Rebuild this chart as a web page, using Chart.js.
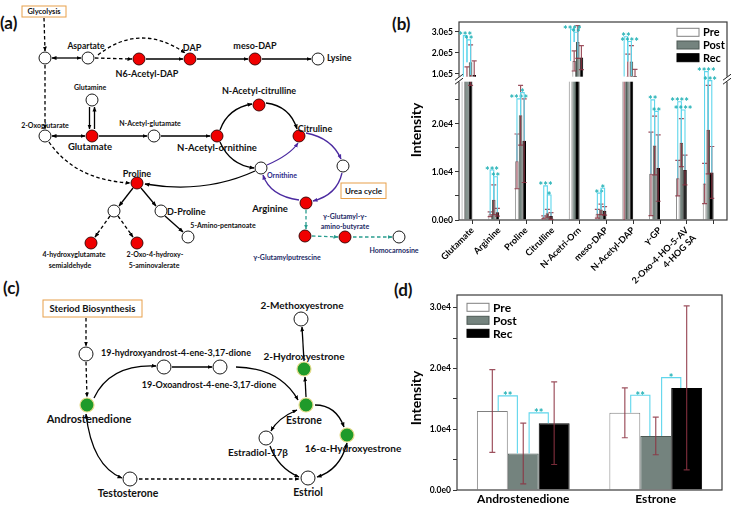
<!DOCTYPE html>
<html lang="en">
<head>
<meta charset="UTF-8">
<title>Amino acid and steroid pathways</title>
<script src="https://cdn.jsdelivr.net/npm/chart.js@4"></script>
<style>
  body { margin: 0; background: #fff; }
  #fig { position: relative; width: 734px; height: 507px; overflow: hidden; font-family: Lato, sans-serif; }
  #fig svg { position: absolute; left: 0; top: 0; }
  #aminoChart { position: absolute; left: 367px; top: 0; }
  #steroidChart { position: absolute; left: 367px; top: 265px; }
  .ln { stroke: #000; stroke-width: 1.3; fill: none; }
  .dash { stroke-dasharray: 3.5 2.5; }
  .pur { stroke: #4b2aa0; }
  .teal { stroke: #2a9d8f; }
  .nw { fill: #fff; stroke: #000; stroke-width: 0.9; }
  .nr { fill: #f00000; stroke: #300; stroke-width: 0.9; }
  .ng { fill: #1f9a2a; stroke: #e6dc8c; stroke-width: 1.2; }
  text { fill: #111; }
  .c { text-anchor: middle; dominant-baseline: central; }
  .s { text-anchor: start; dominant-baseline: central; }
  .navy { fill: #1d2a66; }
</style>
</head>
<body>
<div id="fig">
<svg width="734" height="507" viewBox="0 0 734 507" font-family="Lato, sans-serif" font-weight="700">
  <defs>
    <marker id="ah" viewBox="0 0 10 10" refX="9" refY="5" markerWidth="5" markerHeight="5" orient="auto-start-reverse" markerUnits="userSpaceOnUse"><path d="M0,1 L10,5 L0,9 z" fill="#000"/></marker>
    <marker id="ahP" viewBox="0 0 10 10" refX="9" refY="5" markerWidth="5" markerHeight="5" orient="auto-start-reverse" markerUnits="userSpaceOnUse"><path d="M0,1 L10,5 L0,9 z" fill="#4b2aa0"/></marker>
    <marker id="ahT" viewBox="0 0 10 10" refX="9" refY="5" markerWidth="5" markerHeight="5" orient="auto-start-reverse" markerUnits="userSpaceOnUse"><path d="M0,1 L10,5 L0,9 z" fill="#2a9d8f"/></marker>
  </defs>

  <!-- (a) amino acid pathways -->
  <text x="0" y="29" font-size="17">(a)</text>
  <rect x="22" y="6" width="44" height="11" fill="#fff" stroke="#e8a04a" stroke-width="1"/>
  <text class="c" x="44" y="11.5" font-size="7.5">Glycolysis</text>

  <line class="ln dash" x1="44" y1="18" x2="45" y2="51" marker-end="url(#ah)"/>
  <line class="ln" x1="52" y1="58" x2="81" y2="58" marker-start="url(#ah)" marker-end="url(#ah)"/>
  <line class="ln dash" x1="95" y1="58" x2="132" y2="59" marker-end="url(#ah)"/>
  <path class="ln dash" d="M98 55 Q140 22 185 53" marker-end="url(#ah)"/>
  <line class="ln" x1="146" y1="59" x2="183" y2="59" marker-end="url(#ah)"/>
  <line class="ln" x1="197" y1="59" x2="248" y2="59" marker-end="url(#ah)"/>
  <line class="ln" x1="262" y1="59" x2="311" y2="59" marker-end="url(#ah)"/>
  <line class="ln dash" x1="45" y1="65" x2="45" y2="129" marker-end="url(#ah)"/>
  <line class="ln" x1="52" y1="136" x2="85" y2="136" marker-start="url(#ah)" marker-end="url(#ah)"/>
  <line class="ln" x1="89.5" y1="107" x2="89.5" y2="129" marker-end="url(#ah)"/>
  <line class="ln" x1="94.5" y1="129" x2="94.5" y2="107" marker-end="url(#ah)"/>
  <line class="ln" x1="99" y1="136" x2="147" y2="136" marker-end="url(#ah)"/>
  <line class="ln" x1="161" y1="136" x2="210" y2="136" marker-end="url(#ah)"/>
  <path class="ln" d="M220 130 Q228 108 252 104" marker-end="url(#ah)"/>
  <path class="ln" d="M266 103 Q290 106 297 129" marker-end="url(#ah)"/>
  <path class="ln" d="M220 142 Q230 165 254 168" marker-end="url(#ah)"/>
  <path class="ln" d="M255 171 Q205 194 145 184" marker-end="url(#ah)"/>
  <path class="ln dash" d="M49 142 Q75 180 130 183" marker-end="url(#ah)"/>
  <path class="ln pur" d="M306 133 Q332 138 341 159" marker-end="url(#ahP)"/>
  <path class="ln pur" d="M267 165 Q290 155 298 143" marker-end="url(#ahP)"/>
  <path class="ln pur" d="M342 173 Q337 195 313 201" marker-end="url(#ahP)"/>
  <path class="ln pur" d="M299 200 Q270 196 263 175" marker-end="url(#ahP)"/>
  <line class="ln" x1="133" y1="188" x2="119" y2="206" marker-end="url(#ah)"/>
  <line class="ln" x1="141" y1="188" x2="156" y2="206" marker-end="url(#ah)"/>
  <line class="ln dash" x1="110" y1="216" x2="95" y2="237" marker-end="url(#ah)"/>
  <line class="ln dash" x1="118" y1="216" x2="133" y2="237" marker-end="url(#ah)"/>
  <line class="ln" x1="165" y1="216" x2="183" y2="232" marker-end="url(#ah)"/>
  <line class="ln dash teal" x1="306" y1="210" x2="306" y2="229" marker-end="url(#ahT)"/>
  <line class="ln dash teal" x1="312" y1="236" x2="338" y2="237" marker-end="url(#ahT)"/>
  <line class="ln dash teal" x1="353" y1="237" x2="392" y2="237" marker-end="url(#ahT)"/>

  <circle class="nw" cx="45" cy="58" r="6"/>
  <circle class="nw" cx="88" cy="58" r="6"/>
  <circle class="nr" cx="139" cy="59" r="6"/>
  <circle class="nr" cx="190" cy="59" r="6"/>
  <circle class="nr" cx="255" cy="59" r="6"/>
  <circle class="nw" cx="318" cy="59" r="6"/>
  <circle class="nw" cx="45" cy="136" r="6"/>
  <circle class="nw" cx="92" cy="100" r="6"/>
  <circle class="nr" cx="92" cy="136" r="6"/>
  <circle class="nw" cx="154" cy="136" r="6"/>
  <circle class="nr" cx="217" cy="136" r="6"/>
  <circle class="nr" cx="259" cy="105" r="6"/>
  <circle class="nr" cx="299" cy="136" r="6"/>
  <circle class="nw" cx="261" cy="168" r="6"/>
  <circle class="nw" cx="343" cy="166" r="6"/>
  <circle class="nr" cx="306" cy="203" r="6"/>
  <circle class="nr" cx="137" cy="183" r="6"/>
  <circle class="nw" cx="114" cy="211" r="6"/>
  <circle class="nw" cx="161" cy="211" r="6"/>
  <circle class="nr" cx="91" cy="243" r="6"/>
  <circle class="nr" cx="137" cy="243" r="6"/>
  <circle class="nw" cx="188" cy="237" r="6"/>
  <circle class="nr" cx="305" cy="236" r="6"/>
  <circle class="nr" cx="345" cy="237" r="6"/>
  <circle class="nw" cx="399" cy="237" r="6"/>

  <text class="c" x="86" y="46" font-size="8.5">Aspartate</text>
  <text class="c" x="192" y="47" font-size="9">DAP</text>
  <text class="c" x="147" y="73" font-size="9">N6-Acetyl-DAP</text>
  <text class="c" x="255" y="45" font-size="9">meso-DAP</text>
  <text class="s" x="327" y="57" font-size="9">Lysine</text>
  <text class="c" x="90" y="87" font-size="7">Glutamine</text>
  <text class="c" x="45" y="125" font-size="7">2-Oxoglutarate</text>
  <text class="c" x="90" y="146" font-size="9.5">Glutamate</text>
  <text class="c" x="150" y="123" font-size="7">N-Acetyl-glutamate</text>
  <text class="c" x="217" y="147" font-size="9.5">N-Acetyl-ornithine</text>
  <text class="c" x="259" y="90" font-size="9">N-Acetyl-citrulline</text>
  <text class="c" x="315" y="128" font-size="9">Citruline</text>
  <text class="s" x="267" y="175" font-size="7" style="fill:#2d2a8a">Ornithine</text>
  <text class="c" x="270" y="208" font-size="9.5">Arginine</text>
  <rect x="341" y="183" width="45" height="15.5" fill="#fff" stroke="#e8a04a" stroke-width="1"/>
  <text class="c" x="363.5" y="190.8" font-size="8">Urea cycle</text>
  <text class="c" x="137" y="173" font-size="9">Proline</text>
  <text class="s" x="167" y="211" font-size="9">D-Proline</text>
  <text class="c" x="223" y="225" font-size="7">5-Amino-pentanoate</text>
  <text class="c" x="74" y="254" font-size="7">4-hydroxyglutamate</text>
  <text class="c" x="70" y="265" font-size="7">semialdehyde</text>
  <text class="c" x="155" y="254" font-size="7">2-Oxo-4-hydroxy-</text>
  <text class="c" x="154" y="265" font-size="7">5-aminovalerate</text>
  <text class="c navy" x="287" y="257" font-size="7">γ-Glutamylputrescine</text>
  <text class="c navy" x="345" y="216" font-size="7">γ-Glutamyl-γ-</text>
  <text class="c navy" x="345" y="226" font-size="7">amino-butyrate</text>
  <text class="c navy" x="394" y="250" font-size="7">Homocarnosine</text>

  <!-- (c) steroid pathway -->
  <text x="3" y="294" font-size="17">(c)</text>
  <rect x="43" y="300" width="99" height="17" fill="#fff" stroke="#e8a04a" stroke-width="1"/>
  <text class="c" x="92.5" y="308.8" font-size="9.5">Steriod Biosynthesis</text>

  <line class="ln dash" x1="86" y1="318" x2="86" y2="346" marker-end="url(#ah)"/>
  <line class="ln dash" x1="86" y1="362" x2="87" y2="397" marker-end="url(#ah)"/>
  <path class="ln" d="M94 398 Q110 364 156 366" marker-end="url(#ah)"/>
  <line class="ln" x1="172" y1="367" x2="212" y2="367" marker-end="url(#ah)"/>
  <path class="ln" d="M236 367 Q280 368 298 400" marker-end="url(#ah)"/>
  <line class="ln" x1="306" y1="397" x2="305" y2="377" marker-end="url(#ah)"/>
  <line class="ln" x1="304" y1="361" x2="302" y2="327" marker-end="url(#ah)"/>
  <path class="ln" d="M297 410 Q278 418 271 431" marker-start="url(#ah)" marker-end="url(#ah)"/>
  <path class="ln" d="M315 405 Q336 405 344 427" marker-end="url(#ah)"/>
  <path class="ln" d="M270 446 Q278 468 299 477" marker-end="url(#ah)"/>
  <path class="ln" d="M347 443 Q340 470 317 477" marker-start="url(#ah)" marker-end="url(#ah)"/>
  <path class="ln" d="M86 414 Q92 466 122 478" marker-start="url(#ah)" marker-end="url(#ah)"/>
  <line class="ln dash" x1="139" y1="479" x2="299" y2="479" marker-end="url(#ah)"/>

  <circle class="nw" cx="86" cy="354" r="7"/>
  <circle class="ng" cx="87" cy="405" r="7"/>
  <circle class="nw" cx="164" cy="367" r="7"/>
  <circle class="nw" cx="220" cy="367" r="7"/>
  <circle class="ng" cx="306" cy="405" r="7"/>
  <circle class="ng" cx="304" cy="369" r="7"/>
  <circle class="nw" cx="301" cy="319" r="7"/>
  <circle class="nw" cx="266" cy="438" r="7"/>
  <circle class="ng" cx="347" cy="435" r="7"/>
  <circle class="nw" cx="308" cy="478" r="7"/>
  <circle class="nw" cx="130" cy="479" r="7"/>

  <text class="c" x="176" y="352" font-size="9">19-hydroxyandrost-4-ene-3,17-dione</text>
  <text class="c" x="209" y="384" font-size="9">19-Oxoandrost-4-ene-3,17-dione</text>
  <text class="c" x="89" y="418" font-size="11">Androstenedione</text>
  <text class="c" x="302" y="305" font-size="10">2-Methoxyestrone</text>
  <text class="c" x="304" y="356" font-size="10">2-Hydroxyestrone</text>
  <text class="c" x="304" y="420" font-size="10.5">Estrone</text>
  <text class="c" x="258" y="452" font-size="10">Estradiol-17β</text>
  <text class="c" x="353" y="448" font-size="10">16-α-Hydroxyestrone</text>
  <text class="c" x="128" y="493" font-size="10.5">Testosterone</text>
  <text class="c" x="308" y="492" font-size="10.5">Estriol</text>

  <!-- panel letters of the charts -->
  <text x="392" y="30" font-size="17">(b)</text>
  <text x="394" y="296" font-size="17">(d)</text>
</svg>
<canvas id="aminoChart" width="367" height="290"></canvas>
<canvas id="steroidChart" width="367" height="242"></canvas>
</div>

<script>
// ---- data: panel (b) ----
const groups = ['Pre', 'Post', 'Rec'];
const aminoNames = ['Glutamate', 'Arginine', 'Proline', 'Citrulline', 'N-Acetri-Orn',
  'meso-DAP', 'N-Acetyl-DAP', 'γ-GP', '2-Oxo-4-HO-5-AV', '4-HOG SA'];
const aminoTicks = ['Glutamate', 'Arginine', 'Proline', 'Citrulline', 'N-Acetri-Orn',
  'meso-DAP', 'N-Acetyl-DAP', 'γ-GP', ['2-Oxo-4-HO-5-AV', '4-HOG SA'], ''];
const aminoPre = [87000, 1200, 12200, 560, 162000, 1300, 88000, 9600, 8700, 7600];
const aminoPreSd = [47000, 500, 5700, 300, 48000, 900, 106000, 8700, 3700, 4200];
const aminoPost = [156000, 4200, 21800, 1400, 252000, 2200, 159000, 15500, 16100, 18800];
const aminoPostSd = [82000, 3100, 6200, 800, 78000, 1100, 76000, 6100, 5000, 9200];
const aminoRec = [95000, 1600, 16500, 830, 178000, 1900, 90000, 10800, 10400, 9900];
const aminoRecSd = [67000, 800, 8700, 700, 57000, 900, 32000, 6900, 3100, 5400];
// broken axis: lower segment 0..29300, upper segment 75000..347000
const aminoLowMax = 29300;
const aminoHighMin = 75000;
const aminoHighMax = 347000;
const aminoLowTicks = [0, 5000, 10000, 15000, 20000, 25000];
const aminoHighTicks = [100000, 200000, 300000];
// [category, group a, group b, label, bracket level]
const aminoSig = [
  [0, 0, 1, '***', 282000], [0, 1, 2, '**', 262000],
  [1, 0, 1, '***', 10400], [1, 1, 2, '**', 9000],
  [2, 0, 1, '****', 25200], [2, 1, 2, '*', 26500],
  [3, 0, 1, '***', 7100], [3, 1, 2, '*', 5200],
  [4, 0, 1, '****', 313000], [4, 1, 2, '**', 298000],
  [5, 0, 1, '**', 5600], [5, 1, 2, '*', 6600],
  [6, 0, 1, '**', 277000], [6, 1, 2, '****', 254000],
  [7, 0, 1, '**', 25000], [7, 1, 2, '**', 22600],
  [8, 0, 1, '****', 24600], [8, 1, 2, '****', 22900],
  [9, 0, 1, '****', 111000], [9, 1, 2, '***', 29000]
];

// ---- data: panel (d) ----
const steroidNames = ['Androstenedione', 'Estrone'];
const steroidPre = [13000, 12700];
const steroidPreSd = [6800, 4100];
const steroidPost = [6000, 8900];
const steroidPostSd = [5000, 3100];
const steroidRec = [11000, 16800];
const steroidRecSd = [6800, 13500];
const steroidMax = 32100;
const steroidTicks = [0, 5000, 10000, 15000, 20000, 25000, 30000];
const steroidSig = [
  [0, 0, 1, '**', 15500], [0, 1, 2, '**', 12700],
  [1, 0, 1, '**', 15600], [1, 1, 2, '*', 18500]
];

const barFill = ['#ffffff', '#74837e', '#000000'];
const barEdge = ['#808080', '#4d5954', '#000000'];
const tickFont = { family: 'Lato', weight: 'bold', size: 8.5 };

Chart.defaults.font.family = 'Lato';
Chart.defaults.color = '#000';

const sci = (v, exp) => (v / Math.pow(10, exp)).toFixed(1) + 'e' + exp;
const labelE4 = v => (v === 0 ? '0.0e0' : (v % 10000 === 0 ? sci(v, 4) : ''));

// pixel for a value, across the axis break when there is one
function valuePixel(chart, v) {
  const hi = chart.scales.yHigh;
  const lo = chart.scales.yLow || chart.scales.y;
  if (hi && v >= hi.min) return hi.getPixelForValue(v);
  return lo.getPixelForValue(Math.min(v, lo.max));
}

// keep each dataset inside its own y segment
const clipToScale = {
  id: 'clipToScale',
  beforeDatasetDraw(chart, args) {
    const ys = chart.scales[args.meta.yAxisID];
    const { left, right } = chart.chartArea;
    chart.ctx.save();
    chart.ctx.beginPath();
    chart.ctx.rect(left, ys.top, right - left, ys.bottom - ys.top);
    chart.ctx.clip();
  },
  afterDatasetDraw(chart) {
    chart.ctx.restore();
  }
};

const frame = {
  id: 'frame',
  afterDatasetsDraw(chart) {
    const { ctx, chartArea: a } = chart;
    ctx.save();
    ctx.strokeStyle = '#3a3a3a';
    ctx.lineWidth = 1.2;
    ctx.strokeRect(a.left, a.top, a.right - a.left, a.bottom - a.top);
    ctx.restore();
  }
};

function makeErrorBars(cap) {
  return {
    id: 'errorBars',
    afterDatasetsDraw(chart) {
      const { ctx, chartArea: a } = chart;
      chart.data.datasets.forEach((ds, di) => {
        const meta = chart.getDatasetMeta(di);
        const ys = chart.scales[meta.yAxisID];
        ctx.save();
        ctx.beginPath();
        ctx.rect(a.left, ys.top, a.right - a.left, ys.bottom - ys.top);
        ctx.clip();
        ctx.strokeStyle = 'rgba(140, 50, 66, 0.85)';
        ctx.lineWidth = 1.2;
        meta.data.forEach((bar, i) => {
          const v = ds.data[i], e = ds.errors[i];
          const yHi = ys.getPixelForValue(v + e);
          const yLo = ys.getPixelForValue(Math.max(0, v - e));
          ctx.beginPath();
          ctx.moveTo(bar.x, yHi); ctx.lineTo(bar.x, yLo);
          ctx.moveTo(bar.x - cap, yHi); ctx.lineTo(bar.x + cap, yHi);
          if (v - e > 0) { ctx.moveTo(bar.x - cap, yLo); ctx.lineTo(bar.x + cap, yLo); }
          ctx.stroke();
        });
        ctx.restore();
      });
    }
  };
}

const axisBreak = {
  id: 'axisBreak',
  afterDatasetsDraw(chart) {
    const { ctx, chartArea: a } = chart;
    const y = chart.scales.yLow.top;
    ctx.save();
    ctx.fillStyle = '#fff';
    ctx.fillRect(a.left - 5, y - 2.5, a.right - a.left + 10, 5);
    ctx.strokeStyle = '#222';
    ctx.lineWidth = 1;
    [a.left, a.right].forEach(x => {
      [-2, 2].forEach(d => {
        ctx.beginPath();
        ctx.moveTo(x - 4, y + d + 3);
        ctx.lineTo(x + 4, y + d - 3);
        ctx.stroke();
      });
    });
    ctx.restore();
  }
};

function makeBrackets(items, inset) {
  return {
    id: 'sigBrackets',
    afterDatasetsDraw(chart) {
      const ctx = chart.ctx;
      ctx.save();
      ctx.strokeStyle = '#5fd6ec';
      ctx.lineWidth = 1.1;
      ctx.fillStyle = '#1fb0b5';
      ctx.font = 'bold 11px Lato';
      ctx.textAlign = 'center';
      ctx.textBaseline = 'alphabetic';
      items.forEach(([cat, ga, gb, label, level]) => {
        const barA = chart.getDatasetMeta(ga).data[cat];
        const barB = chart.getDatasetMeta(gb).data[cat];
        const xa = barA.x + barA.width * inset;
        const xb = barB.x - barB.width * inset;
        const yl = valuePixel(chart, level);
        const ya = valuePixel(chart, chart.data.datasets[ga].data[cat]);
        const yb = valuePixel(chart, chart.data.datasets[gb].data[cat]);
        ctx.beginPath();
        ctx.moveTo(xa, ya); ctx.lineTo(xa, yl); ctx.lineTo(xb, yl); ctx.lineTo(xb, yb);
        ctx.stroke();
        ctx.fillText(label, (xa + xb) / 2, yl + 4.5);
      });
      ctx.restore();
    }
  };
}

function makeLegend(fromRight, dx, dy, step, boxW, boxH, size) {
  return {
    id: 'insideLegend',
    afterDraw(chart) {
      const { ctx, chartArea: a } = chart;
      const x0 = fromRight ? a.right - dx : a.left + dx;
      ctx.save();
      ctx.font = 'bold ' + size + 'px Lato';
      ctx.textBaseline = 'middle';
      groups.forEach((g, k) => {
        const yc = a.top + dy + k * step;
        ctx.fillStyle = barFill[k];
        ctx.fillRect(x0, yc - boxH / 2, boxW, boxH);
        ctx.strokeStyle = barEdge[k];
        ctx.lineWidth = 1;
        ctx.strokeRect(x0, yc - boxH / 2, boxW, boxH);
        ctx.fillStyle = '#000';
        ctx.fillText(g, x0 + boxW + 4, yc + 0.5);
      });
      ctx.restore();
    }
  };
}

function makeAxisTitle(text, dx, yc, size) {
  return {
    id: 'axisTitle',
    afterDraw(chart) {
      const { ctx, chartArea: a } = chart;
      ctx.save();
      ctx.translate(a.left - dx, yc);
      ctx.rotate(-Math.PI / 2);
      ctx.font = 'bold ' + size + 'px Lato';
      ctx.textAlign = 'center';
      ctx.textBaseline = 'middle';
      ctx.fillStyle = '#000';
      ctx.fillText(text, 0, 0);
      ctx.restore();
    }
  };
}

function yAxis(extra, tickValues, label) {
  return Object.assign({
    position: 'left',
    grid: { display: true, drawOnChartArea: false, tickLength: 4, color: '#333' },
    border: { display: false },
    ticks: { autoSkip: false, padding: 2, font: tickFont, callback: label },
    afterBuildTicks: s => { s.ticks = tickValues.map(value => ({ value })); },
    afterFit: s => { s.width = 55; }
  }, extra);
}

// ---- panel (b): broken y axis, upper segment datasets on a hidden twin x axis ----
// each group keeps one slot per category in both segments (stack key = group)
const aminoSeries = [[aminoPre, aminoPreSd], [aminoPost, aminoPostSd], [aminoRec, aminoRecSd]];
const aminoDatasets = [];
['Low', 'High'].forEach(seg => {
  aminoSeries.forEach(([vals, sds], k) => {
    aminoDatasets.push({
      label: groups[k],
      data: vals,
      errors: sds,
      stack: groups[k],
      xAxisID: seg === 'Low' ? 'x' : 'xHigh',
      yAxisID: 'y' + seg,
      backgroundColor: barFill[k],
      borderColor: barEdge[k],
      borderWidth: 1,
      barPercentage: 1,
      categoryPercentage: 0.81
    });
  });
});

new Chart(document.getElementById('aminoChart'), {
  type: 'bar',
  data: { labels: aminoNames, datasets: aminoDatasets },
  options: {
    responsive: false,
    animation: false,
    events: [],
    layout: { padding: { left: 37, right: 7, top: 22, bottom: 0 } },
    plugins: { legend: { display: false }, tooltip: { enabled: false } },
    scales: {
      x: {
        stacked: true,
        offset: true,
        grid: { display: true, drawOnChartArea: false, tickLength: 4, color: '#333', offset: false },
        border: { display: false },
        ticks: {
          autoSkip: false, minRotation: 45, maxRotation: 45, padding: 1,
          font: { family: 'Lato', weight: 'bold', size: 9 },
          callback: (v, i) => aminoTicks[i]
        },
        afterFit: s => { s.height = 70; }
      },
      xHigh: { type: 'category', display: false, offset: true, stacked: true },
      yLow: yAxis({ stack: 'amino', stackWeight: 140.8, min: 0, max: aminoLowMax },
        aminoLowTicks, labelE4),
      yHigh: yAxis({ stack: 'amino', stackWeight: 57.2, min: aminoHighMin, max: aminoHighMax },
        aminoHighTicks, v => sci(v, 5))
    }
  },
  plugins: [clipToScale, frame, makeErrorBars(2.5), axisBreak, makeBrackets(aminoSig, 0),
    makeLegend(true, 50, 10.3, 12.7, 22, 8, 11), makeAxisTitle('Intensity', 43, 130, 14)]
});

// ---- panel (d) ----
const steroidSeries = [[steroidPre, steroidPreSd], [steroidPost, steroidPostSd], [steroidRec, steroidRecSd]];
new Chart(document.getElementById('steroidChart'), {
  type: 'bar',
  data: {
    labels: steroidNames,
    datasets: steroidSeries.map(([vals, sds], k) => ({
      label: groups[k],
      data: vals,
      errors: sds,
      backgroundColor: barFill[k],
      borderColor: barEdge[k],
      borderWidth: 1,
      barPercentage: 1,
      categoryPercentage: 0.7
    }))
  },
  options: {
    responsive: false,
    animation: false,
    events: [],
    layout: { padding: { left: 35, right: 12, top: 30, bottom: 0 } },
    plugins: { legend: { display: false }, tooltip: { enabled: false } },
    scales: {
      x: {
        grid: { display: false, drawTicks: false },
        border: { display: false },
        ticks: { padding: 2, font: { family: 'Lato', weight: 'bold', size: 12 } },
        afterFit: s => { s.height = 17; }
      },
      y: yAxis({ min: 0, max: steroidMax }, steroidTicks, labelE4)
    }
  },
  plugins: [frame, makeErrorBars(3), makeBrackets(steroidSig, 0.19),
    makeLegend(false, 10, 12.3, 13, 22, 8, 12), makeAxisTitle('Intensity', 41, 133, 14)]
});
</script>
</body>
</html>
